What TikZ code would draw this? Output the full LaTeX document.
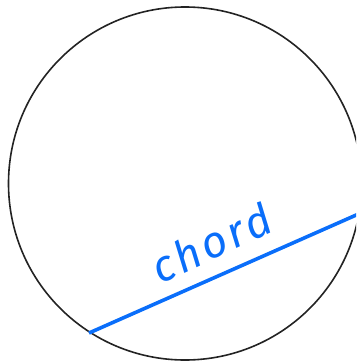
\documentclass[tikz,border=0pt]{standalone}
\usepackage{fontspec}
\newfontfamily\handfont[LetterSpace=8]{Fira Sans}
\definecolor{chordblue}{RGB}{10,110,250}
\definecolor{circgray}{RGB}{35,35,35}
\tikzset{
  circ/.style={draw=circgray, line width=1.6pt},
  chordline/.style={draw=chordblue, line width=3.6pt},
  handlabel/.style={text=chordblue, font=\handfont\fontsize{44}{44}\selectfont\itshape, inner sep=0pt}
}
\begin{document}
\begin{tikzpicture}[x=1pt,y=-1pt]
  \useasboundingbox (0,0) rectangle (356,361);
  \clip (0,0) rectangle (356,361);
  \coordinate (c) at (185,183.5);
  \draw[circ] (c) circle[radius=176.5];
  \coordinate (a) at (89,333);
  \coordinate (b) at (358.5,214);
  \draw[chordline] (a) -- (b);
  \node[handlabel, rotate=25] (lab) at (211,243) {chord};
\end{tikzpicture}
\end{document}
